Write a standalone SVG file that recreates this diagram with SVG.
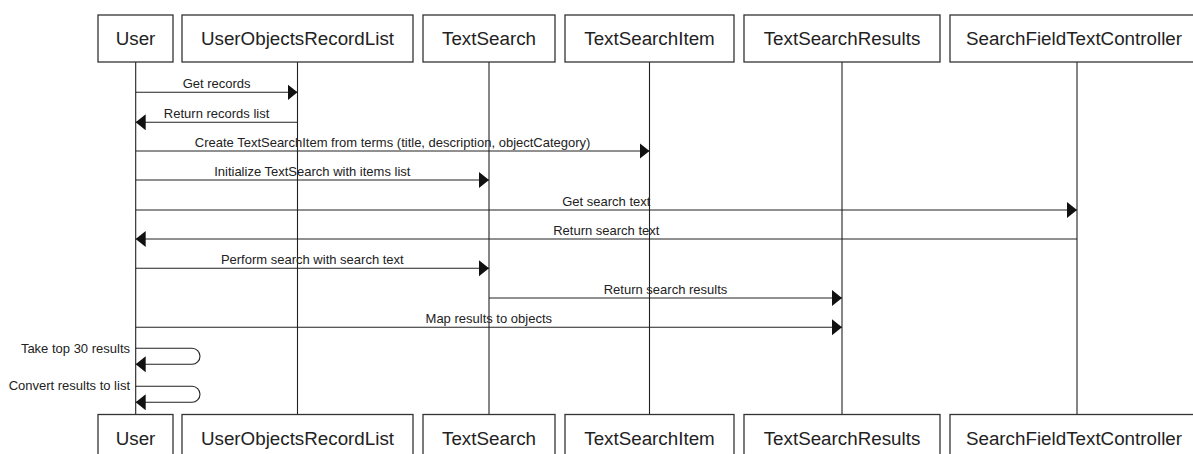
<svg xmlns="http://www.w3.org/2000/svg" width="1193" height="454" viewBox="0 0 1193 454">
<style>
.box{fill:#fff;stroke:#333;stroke-width:1.3}
.pt{font-family:"Liberation Sans",Arial,sans-serif;font-size:18.8px;fill:#222;text-anchor:middle}
.life{stroke:#222;stroke-width:1.1;fill:none}
.msg{stroke:#222;stroke-width:1.1;fill:none;marker-end:url(#ah)}
.lbl{font-family:"Liberation Sans",Arial,sans-serif;font-size:13px;fill:#222;text-anchor:middle}
.lblr{font-family:"Liberation Sans",Arial,sans-serif;font-size:13px;fill:#222;text-anchor:end}
</style>
<defs>
<marker id="ah" markerUnits="userSpaceOnUse" markerWidth="11" markerHeight="17" refX="10" refY="8" orient="auto">
<path d="M0,0 L10,8 L0,16 Z" fill="#111"/>
</marker>
</defs>
<rect width="1193" height="454" fill="#fff"/>
<g id="lifelines">
<line class="life" x1="135.7" y1="62" x2="135.7" y2="414"/>
<line class="life" x1="297.5" y1="62" x2="297.5" y2="414"/>
<line class="life" x1="489" y1="62" x2="489" y2="414"/>
<line class="life" x1="649.5" y1="62" x2="649.5" y2="414"/>
<line class="life" x1="842" y1="62" x2="842" y2="414"/>
<line class="life" x1="1077" y1="62" x2="1077" y2="414"/>
</g>
<g id="User">
<rect class="box" x="98" y="15" width="75" height="47"/>
<text class="pt" x="135.5" y="45.3">User</text>
<rect class="box" x="98" y="414.5" width="75" height="47"/>
<text class="pt" x="135.5" y="445">User</text>
</g>
<g id="UserObjectsRecordList">
<rect class="box" x="182" y="15" width="231" height="47"/>
<text class="pt" x="297.5" y="45.3">UserObjectsRecordList</text>
<rect class="box" x="182" y="414.5" width="231" height="47"/>
<text class="pt" x="297.5" y="445">UserObjectsRecordList</text>
</g>
<g id="TextSearch">
<rect class="box" x="423" y="15" width="132" height="47"/>
<text class="pt" x="489" y="45.3">TextSearch</text>
<rect class="box" x="423" y="414.5" width="132" height="47"/>
<text class="pt" x="489" y="445">TextSearch</text>
</g>
<g id="TextSearchItem">
<rect class="box" x="565" y="15" width="169" height="47"/>
<text class="pt" x="649.5" y="45.3">TextSearchItem</text>
<rect class="box" x="565" y="414.5" width="169" height="47"/>
<text class="pt" x="649.5" y="445">TextSearchItem</text>
</g>
<g id="TextSearchResults">
<rect class="box" x="744" y="15" width="196" height="47"/>
<text class="pt" x="842" y="45.3">TextSearchResults</text>
<rect class="box" x="744" y="414.5" width="196" height="47"/>
<text class="pt" x="842" y="445">TextSearchResults</text>
</g>
<g id="SearchFieldTextController">
<rect class="box" x="950" y="15" width="254" height="47"/>
<text class="pt" x="1074" y="45.3">SearchFieldTextController</text>
<rect class="box" x="950" y="414.5" width="254" height="47"/>
<text class="pt" x="1074" y="445">SearchFieldTextController</text>
</g>
<g id="connectors">
<line class="msg" x1="135.7" y1="92.3" x2="297.5" y2="92.3"/>
<text class="lbl" x="216.6" y="88">Get records</text>
<line class="msg" x1="297.5" y1="122.3" x2="135.7" y2="122.3"/>
<text class="lbl" x="216.6" y="117.5">Return records list</text>
<line class="msg" x1="135.7" y1="151" x2="649.5" y2="151"/>
<text class="lbl" x="392.6" y="146.5">Create TextSearchItem from terms (title, description, objectCategory)</text>
<line class="msg" x1="135.7" y1="180" x2="489" y2="180"/>
<text class="lbl" x="312.3" y="175.5">Initialize TextSearch with items list</text>
<line class="msg" x1="135.7" y1="210" x2="1077" y2="210"/>
<text class="lbl" x="606.3" y="205.5">Get search text</text>
<line class="msg" x1="1077" y1="239" x2="135.7" y2="239"/>
<text class="lbl" x="606.3" y="234.5">Return search text</text>
<line class="msg" x1="135.7" y1="268.3" x2="489" y2="268.3"/>
<text class="lbl" x="312.3" y="263.8">Perform search with search text</text>
<line class="msg" x1="489" y1="298" x2="842" y2="298"/>
<text class="lbl" x="665.5" y="293.5">Return search results</text>
<line class="msg" x1="135.7" y1="327.3" x2="842" y2="327.3"/>
<text class="lbl" x="488.8" y="322.8">Map results to objects</text>
<path class="msg" d="M135.7,348.3 H192 A8,8 0 0 1 192,364.3 H135.7"/>
<text class="lblr" x="130" y="352.5">Take top 30 results</text>
<path class="msg" d="M135.7,386.3 H192 A8,8 0 0 1 192,402.3 H135.7"/>
<text class="lblr" x="130" y="390.3">Convert results to list</text>
</g>
</svg>
